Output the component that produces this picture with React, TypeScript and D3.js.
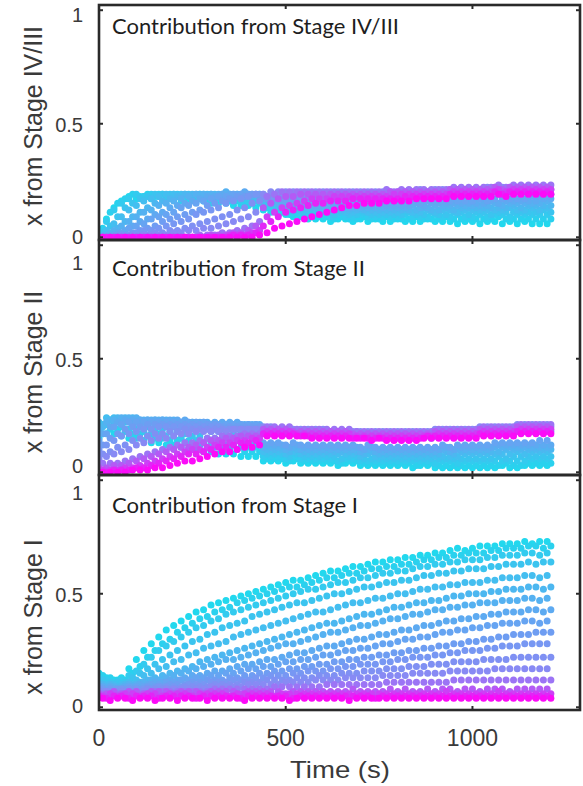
import React from "react";
import * as d3 from "d3";

// sampling times (s) - alternate runs were logged 10 s apart
const timesA = [0,20,40,60,80,100,120,140,160,180, 200,220,240,260,280,300,320,340,360,380, 400,420,440,460,480,500,520,540,560,580, 600,620,640,660,680,700,720,740,760,780, 800,820,840,860,880,900,920,940,960,980, 1000,1020,1040,1060,1080,1100,1120,1140,1160,1180, 1200];
const timesB = [10,30,50,70,90,110,130,150,170,190, 210,230,250,270,290,310,330,350,370,390, 410,430,450,470,490,510,530,550,570,590, 610,630,650,670,690,710,730,750,770,790, 810,830,850,870,890,910,930,950,970,990, 1010,1030,1050,1070,1090,1110,1130,1150,1170,1190, 1210];

// one row per run, cyan (first) -> magenta (last)
const stageIV_III = [
  [.02,.08,.13,.16,.18,.17,.18,.17,.18,.17, .17,.16,.17,.16,.16,.15,.15,.15,.14,.14, .14,.13,.12,.11,.10,.10,.09,.09,.08,.08, .08,.07,.08,.08,.07,.08,.07,.08,.07,.07, .08,.07,.07,.07,.08,.07,.07,.07,.06,.07, .07,.06,.07,.07,.06,.07,.06,.07,.06,.06, .06],
  [.04,.11,.15,.17,.19,.18,.19,.18,.19,.18, .18,.18,.17,.17,.17,.16,.17,.16,.16,.15, .15,.15,.13,.12,.11,.10,.10,.09,.09,.09, .09,.08,.09,.08,.08,.09,.08,.08,.09,.08, .08,.08,.09,.08,.08,.08,.09,.08,.08,.08, .08,.08,.08,.09,.08,.08,.08,.08,.08,.08, .08],
  [.03,.07,.12,.15,.17,.19,.18,.19,.19,.18, .19,.18,.18,.18,.17,.17,.17,.17,.17,.16, .16,.16,.14,.13,.12,.11,.11,.10,.10,.10, .10,.09,.10,.09,.09,.10,.09,.09,.09,.09, .09,.10,.09,.09,.09,.10,.09,.09,.10,.09, .09,.10,.09,.10,.10,.09,.10,.10,.10,.10, .10],
  [.02,.05,.09,.13,.15,.17,.18,.19,.19,.19, .19,.19,.18,.19,.18,.18,.18,.18,.18,.17, .17,.17,.15,.14,.13,.12,.12,.11,.11,.11, .11,.10,.11,.10,.10,.11,.10,.10,.10,.10, .10,.11,.10,.10,.11,.10,.10,.11,.11,.10, .11,.11,.10,.11,.11,.11,.11,.11,.11,.12, .11],
  [.01,.03,.06,.09,.12,.14,.16,.17,.18,.19, .19,.19,.19,.19,.19,.19,.18,.19,.18,.18, .18,.18,.16,.15,.14,.13,.13,.12,.12,.12, .12,.11,.12,.11,.11,.12,.11,.11,.11,.11, .11,.12,.11,.11,.12,.11,.12,.12,.11,.12, .12,.12,.12,.12,.12,.13,.12,.12,.13,.12, .13],
  [.01,.02,.04,.07,.09,.11,.13,.15,.16,.17, .18,.19,.19,.19,.19,.19,.19,.19,.19,.19, .18,.18,.17,.16,.15,.14,.13,.13,.13,.12, .12,.12,.12,.12,.12,.12,.12,.12,.12,.12, .12,.12,.12,.13,.12,.12,.13,.12,.13,.13, .13,.13,.13,.13,.13,.14,.13,.14,.14,.14, .14],
  [.00,.01,.03,.05,.07,.09,.11,.12,.14,.15, .16,.17,.18,.19,.19,.19,.19,.20,.19,.19, .19,.19,.17,.16,.15,.14,.14,.13,.13,.13, .13,.13,.13,.13,.13,.13,.13,.13,.13,.13, .13,.13,.14,.13,.13,.14,.14,.14,.14,.14, .14,.14,.14,.15,.14,.15,.15,.15,.15,.15, .16],
  [.00,.01,.02,.03,.05,.07,.08,.10,.11,.13, .14,.15,.16,.17,.18,.18,.19,.19,.19,.20, .19,.19,.18,.17,.16,.15,.15,.14,.14,.14, .14,.14,.14,.13,.14,.14,.14,.14,.14,.14, .14,.14,.15,.14,.15,.15,.15,.15,.15,.15, .15,.15,.16,.15,.16,.16,.16,.16,.16,.17, .17],
  [.00,.00,.01,.02,.04,.05,.06,.08,.09,.10, .11,.13,.14,.15,.16,.17,.18,.18,.19,.19, .19,.19,.19,.18,.17,.16,.16,.15,.15,.15, .15,.15,.14,.15,.15,.15,.15,.15,.15,.15, .15,.15,.16,.15,.16,.16,.16,.16,.16,.16, .16,.17,.16,.17,.17,.17,.17,.17,.18,.18, .18],
  [.00,.00,.01,.01,.02,.03,.04,.05,.07,.08, .09,.10,.11,.12,.14,.15,.16,.17,.18,.18, .19,.19,.17,.17,.17,.17,.17,.17,.17,.17, .17,.17,.17,.17,.17,.17,.17,.17,.17,.18, .17,.18,.18,.18,.18,.18,.18,.18,.18,.18, .19,.18,.19,.19,.19,.19,.19,.19,.19,.19, .19],
  [.00,.00,.00,.01,.01,.02,.03,.03,.04,.05, .06,.07,.08,.10,.11,.12,.13,.15,.16,.17, .18,.19,.18,.18,.18,.18,.18,.18,.18,.18, .18,.18,.18,.18,.18,.18,.18,.18,.18,.18, .18,.18,.19,.19,.19,.19,.19,.19,.19,.19, .19,.20,.19,.20,.20,.20,.20,.20,.20,.20, .20],
  [.00,.00,.00,.00,.01,.01,.01,.02,.02,.03, .03,.04,.05,.06,.07,.08,.09,.10,.12,.13, .15,.16,.18,.19,.19,.19,.19,.19,.19,.19, .19,.19,.19,.19,.19,.19,.19,.19,.19,.19, .19,.19,.19,.20,.19,.20,.20,.20,.20,.20, .20,.20,.20,.21,.20,.21,.21,.21,.21,.21, .21],
  [.00,.00,.00,.00,.00,.00,.01,.01,.01,.01, .02,.02,.03,.03,.04,.04,.05,.06,.07,.08, .09,.11,.19,.20,.20,.20,.20,.20,.20,.20, .20,.20,.20,.20,.20,.20,.20,.20,.20,.20, .20,.20,.20,.21,.20,.21,.21,.21,.21,.21, .21,.21,.22,.22,.22,.22,.22,.22,.22,.22, .22],
  [.00,.00,.00,.00,.00,.00,.00,.00,.00,.00, .00,.00,.00,.01,.01,.01,.02,.02,.03,.04, .05,.07,.18,.19,.20,.20,.20,.20,.20,.20, .20,.20,.20,.20,.20,.20,.20,.20,.21,.20, .21,.21,.21,.21,.21,.21,.21,.22,.22,.22, .22,.22,.22,.23,.22,.23,.23,.23,.23,.23, .23],
  [.00,.00,.00,.00,.00,.00,.00,.00,.00,.00, .00,.00,.00,.00,.00,.01,.01,.01,.02,.02, .03,.05,.13,.15,.17,.18,.18,.19,.19,.19, .19,.19,.19,.19,.19,.19,.19,.19,.19,.20, .20,.20,.20,.20,.20,.20,.20,.21,.21,.21, .21,.21,.21,.22,.21,.22,.22,.22,.22,.22, .22],
  [.00,.00,.00,.00,.00,.00,.00,.00,.00,.00, .00,.00,.00,.00,.00,.00,.00,.01,.01,.01, .02,.03,.09,.11,.13,.14,.15,.16,.17,.17, .17,.18,.18,.18,.18,.18,.18,.18,.18,.19, .19,.19,.19,.19,.19,.19,.19,.20,.20,.20, .20,.20,.20,.21,.20,.21,.21,.21,.21,.21, .21],
  [.00,.00,.00,.00,.00,.00,.00,.00,.00,.00, .00,.00,.00,.00,.00,.00,.00,.00,.01,.01, .01,.02,.05,.07,.09,.11,.12,.13,.14,.15, .15,.16,.16,.16,.17,.17,.17,.17,.17,.17, .17,.18,.18,.18,.18,.18,.18,.19,.19,.19, .19,.19,.19,.20,.19,.20,.20,.20,.20,.20, .20],
  [.00,.00,.00,.00,.00,.00,.00,.00,.00,.00, .00,.00,.00,.00,.00,.00,.00,.00,.00,.00, .00,.01,.02,.04,.05,.06,.07,.08,.09,.10, .11,.12,.13,.14,.14,.15,.15,.15,.16,.16, .16,.16,.17,.17,.17,.17,.17,.18,.18,.18, .18,.18,.18,.19,.18,.19,.19,.19,.19,.19, .19],
];

const stageII = [
  [.15,.17,.17,.16,.15,.15,.14,.13,.13,.12, .12,.11,.10,.10,.09,.09,.08,.08,.08,.07, .07,.07,.05,.05,.05,.04,.05,.04,.04,.04, .04,.04,.03,.04,.04,.03,.03,.03,.03,.03, .03,.03,.02,.03,.03,.02,.02,.02,.02,.02, .02,.02,.02,.02,.03,.02,.02,.03,.03,.03, .03],
  [.17,.19,.19,.18,.17,.17,.16,.15,.15,.14, .14,.13,.12,.12,.11,.11,.10,.10,.10,.09, .09,.09,.06,.06,.06,.05,.06,.05,.05,.05, .05,.05,.04,.05,.05,.04,.04,.04,.04,.04, .04,.04,.03,.04,.04,.03,.03,.03,.03,.03, .03,.03,.03,.03,.04,.03,.03,.04,.04,.04, .04],
  [.19,.21,.21,.20,.19,.19,.18,.17,.17,.16, .16,.15,.14,.14,.13,.13,.12,.12,.12,.11, .11,.11,.07,.07,.07,.06,.07,.06,.06,.06, .06,.06,.05,.06,.06,.05,.05,.05,.05,.05, .05,.05,.05,.05,.05,.04,.05,.05,.04,.05, .05,.05,.05,.05,.05,.05,.05,.05,.06,.06, .06],
  [.21,.23,.23,.22,.21,.21,.20,.19,.19,.18, .18,.17,.16,.16,.15,.15,.14,.14,.14,.13, .13,.13,.08,.08,.08,.07,.08,.07,.07,.07, .07,.07,.06,.07,.07,.06,.06,.06,.06,.06, .06,.06,.06,.06,.06,.06,.06,.06,.06,.06, .06,.06,.06,.07,.06,.07,.07,.07,.07,.07, .07],
  [.22,.24,.24,.23,.23,.22,.22,.22,.21,.21, .20,.20,.19,.19,.19,.18,.18,.18,.17,.17, .17,.17,.09,.09,.09,.08,.09,.08,.08,.08, .08,.08,.08,.08,.08,.07,.08,.07,.07,.07, .07,.07,.07,.07,.07,.07,.07,.07,.07,.08, .08,.08,.08,.08,.08,.08,.09,.08,.09,.09, .09],
  [.20,.23,.24,.24,.24,.23,.23,.23,.23,.22, .22,.22,.22,.21,.21,.21,.21,.20,.20,.20, .20,.20,.10,.10,.10,.09,.10,.09,.09,.09, .09,.09,.09,.09,.09,.08,.09,.08,.08,.08, .08,.08,.08,.08,.08,.08,.09,.08,.09,.09, .09,.09,.09,.09,.10,.10,.10,.10,.10,.10, .10],
  [.19,.22,.23,.24,.24,.24,.23,.23,.23,.23, .23,.22,.22,.22,.22,.21,.21,.21,.21,.21, .21,.21,.11,.11,.11,.10,.11,.10,.10,.10, .10,.10,.10,.10,.10,.09,.10,.09,.09,.09, .09,.09,.09,.09,.09,.09,.10,.09,.10,.10, .10,.10,.10,.11,.11,.11,.11,.11,.11,.11, .11],
  [.17,.20,.22,.23,.23,.23,.23,.23,.23,.23, .23,.23,.22,.22,.22,.22,.22,.22,.22,.21, .21,.21,.12,.12,.12,.11,.12,.11,.11,.11, .11,.11,.11,.11,.11,.10,.11,.10,.10,.10, .10,.10,.10,.10,.10,.10,.11,.10,.11,.11, .11,.11,.11,.12,.12,.12,.12,.12,.12,.12, .12],
  [.14,.17,.20,.21,.22,.22,.22,.22,.22,.22, .22,.22,.22,.22,.22,.21,.21,.21,.21,.21, .21,.21,.13,.13,.13,.12,.13,.12,.12,.12, .12,.12,.12,.12,.12,.11,.12,.11,.11,.11, .11,.11,.11,.11,.11,.11,.12,.11,.12,.12, .12,.12,.12,.13,.13,.13,.13,.13,.13,.14, .14],
  [.12,.15,.17,.19,.20,.20,.21,.21,.21,.21, .21,.21,.21,.21,.21,.21,.20,.20,.20,.20, .20,.20,.17,.17,.17,.17,.17,.17,.16,.17, .16,.16,.16,.16,.16,.16,.16,.16,.15,.16, .15,.15,.15,.16,.15,.16,.16,.16,.16,.16, .16,.17,.17,.17,.17,.17,.18,.18,.18,.18, .18],
  [.10,.12,.14,.16,.17,.18,.19,.19,.20,.20, .20,.20,.20,.20,.20,.20,.20,.19,.19,.19, .19,.19,.18,.18,.18,.18,.18,.18,.17,.17, .17,.17,.17,.17,.17,.17,.16,.17,.16,.16, .16,.16,.16,.16,.17,.16,.17,.17,.17,.17, .17,.18,.18,.18,.18,.18,.19,.19,.19,.19, .19],
  [.08,.09,.11,.12,.14,.15,.16,.17,.17,.18, .18,.19,.19,.19,.19,.19,.19,.19,.19,.19, .19,.19,.19,.19,.19,.19,.18,.18,.18,.18, .18,.18,.18,.17,.18,.17,.17,.17,.17,.17, .17,.17,.17,.17,.17,.18,.18,.18,.18,.18, .18,.19,.19,.19,.19,.19,.20,.20,.20,.20, .20],
  [.06,.07,.08,.09,.10,.12,.13,.14,.15,.15, .16,.17,.17,.18,.18,.18,.18,.18,.19,.19, .19,.19,.20,.20,.19,.19,.19,.19,.19,.19, .19,.18,.18,.18,.18,.18,.18,.18,.18,.18, .18,.18,.18,.18,.18,.19,.19,.19,.19,.19, .19,.20,.20,.20,.20,.20,.21,.21,.21,.21, .21],
  [.04,.04,.04,.05,.06,.07,.08,.09,.10,.11, .12,.13,.13,.14,.15,.15,.16,.16,.16,.17, .17,.17,.20,.20,.20,.20,.19,.19,.19,.19, .19,.19,.19,.19,.18,.18,.18,.18,.18,.18, .18,.18,.18,.18,.18,.19,.19,.19,.19,.19, .19,.20,.20,.20,.20,.20,.21,.21,.21,.21, .21],
  [.02,.02,.03,.03,.04,.05,.06,.07,.08,.09, .10,.11,.11,.12,.13,.14,.14,.15,.15,.16, .16,.16,.19,.19,.19,.19,.18,.18,.18,.18, .18,.18,.18,.18,.17,.17,.17,.17,.17,.17, .17,.17,.17,.17,.17,.18,.18,.18,.18,.18, .18,.19,.19,.19,.19,.19,.20,.20,.20,.20, .20],
  [.01,.01,.01,.02,.02,.03,.04,.05,.06,.07, .08,.09,.10,.10,.11,.12,.13,.13,.14,.14, .15,.15,.18,.18,.18,.18,.17,.17,.17,.17, .17,.17,.17,.17,.16,.16,.16,.16,.16,.16, .16,.16,.16,.16,.16,.17,.17,.17,.17,.17, .17,.18,.18,.18,.18,.18,.19,.19,.19,.19, .19],
  [.00,.00,.01,.01,.01,.02,.02,.03,.04,.05, .06,.07,.08,.08,.09,.10,.11,.11,.12,.13, .13,.14,.17,.17,.17,.17,.17,.16,.16,.16, .16,.16,.16,.16,.15,.15,.15,.15,.15,.15, .15,.15,.15,.15,.16,.16,.16,.16,.16,.16, .16,.17,.17,.17,.17,.17,.18,.18,.18,.18, .18],
  [.00,.00,.00,.00,.01,.01,.01,.02,.02,.03, .04,.05,.05,.06,.07,.08,.09,.09,.10,.11, .11,.12,.16,.16,.16,.16,.16,.16,.15,.15, .15,.15,.15,.15,.15,.15,.14,.15,.14,.14, .14,.14,.14,.15,.15,.15,.15,.15,.15,.15, .15,.16,.16,.16,.16,.16,.17,.17,.17,.17, .17],
];

const stageI = [
  [.15,.13,.12,.13,.17,.21,.25,.28,.31,.34, .36,.38,.40,.42,.43,.45,.46,.47,.48,.49, .50,.51,.52,.53,.54,.55,.56,.56,.57,.58, .59,.60,.60,.61,.62,.62,.63,.64,.64,.65, .65,.66,.66,.67,.67,.68,.68,.69,.70,.69, .70,.71,.71,.71,.72,.72,.72,.73,.72,.73, .73],
  [.14,.13,.12,.12,.15,.18,.22,.25,.28,.30, .33,.35,.37,.39,.40,.42,.43,.44,.46,.47, .48,.49,.50,.51,.52,.53,.53,.54,.55,.56, .57,.57,.58,.59,.59,.60,.61,.61,.62,.62, .63,.63,.64,.65,.65,.66,.66,.67,.67,.68, .68,.68,.69,.69,.70,.70,.70,.71,.71,.70, .71],
  [.13,.12,.11,.12,.14,.16,.19,.22,.25,.27, .29,.31,.33,.35,.36,.38,.39,.41,.42,.43, .44,.45,.46,.47,.48,.49,.50,.51,.52,.52, .53,.54,.55,.55,.56,.57,.57,.58,.59,.59, .60,.60,.61,.62,.62,.63,.63,.64,.64,.65, .65,.65,.66,.66,.67,.67,.67,.68,.68,.67, .68],
  [.12,.11,.11,.11,.13,.15,.17,.19,.21,.23, .25,.27,.29,.30,.32,.33,.35,.36,.37,.38, .40,.41,.42,.43,.44,.45,.46,.46,.47,.48, .49,.50,.50,.51,.52,.53,.53,.54,.55,.55, .56,.56,.57,.58,.58,.59,.59,.60,.60,.61, .61,.61,.62,.62,.63,.63,.63,.64,.63,.64, .64],
  [.11,.10,.10,.10,.11,.12,.14,.15,.17,.18, .20,.21,.23,.24,.26,.27,.28,.29,.31,.32, .33,.34,.35,.36,.37,.38,.39,.40,.41,.42, .42,.43,.44,.45,.46,.46,.47,.48,.48,.49, .50,.50,.51,.52,.52,.53,.53,.54,.54,.55, .55,.55,.56,.56,.57,.57,.57,.58,.58,.57, .58],
  [.10,.10,.09,.10,.10,.11,.12,.13,.14,.15, .16,.17,.18,.20,.21,.22,.23,.24,.25,.26, .27,.28,.29,.30,.31,.32,.33,.34,.35,.36, .37,.37,.38,.39,.40,.41,.41,.42,.43,.44, .44,.45,.46,.46,.47,.47,.48,.49,.49,.50, .50,.50,.51,.51,.52,.52,.52,.53,.53,.52, .53],
  [.10,.09,.09,.09,.10,.10,.11,.12,.12,.13, .14,.15,.16,.17,.18,.19,.20,.21,.21,.22, .23,.24,.25,.26,.27,.28,.28,.29,.30,.31, .32,.33,.33,.34,.35,.36,.36,.37,.38,.39, .39,.40,.41,.41,.42,.43,.43,.44,.44,.45, .45,.46,.46,.46,.47,.47,.47,.48,.48,.47, .48],
  [.09,.09,.08,.09,.09,.10,.10,.11,.11,.12, .12,.13,.14,.14,.15,.16,.16,.17,.18,.19, .19,.20,.21,.21,.22,.23,.24,.24,.25,.26, .27,.27,.28,.29,.30,.30,.31,.32,.32,.33, .34,.34,.35,.36,.36,.37,.38,.38,.39,.39, .40,.40,.41,.41,.42,.42,.42,.43,.43,.42, .43],
  [.09,.08,.08,.08,.09,.09,.09,.10,.10,.11, .11,.12,.12,.13,.13,.14,.14,.15,.15,.16, .17,.17,.18,.18,.19,.20,.20,.21,.21,.22, .23,.23,.24,.25,.25,.26,.26,.27,.28,.28, .29,.30,.30,.31,.31,.32,.33,.33,.34,.34, .35,.35,.36,.36,.37,.37,.37,.38,.38,.37, .38],
  [.08,.08,.08,.08,.08,.08,.09,.09,.09,.10, .10,.10,.11,.11,.12,.12,.12,.13,.13,.14, .14,.15,.15,.16,.16,.17,.17,.18,.18,.19, .19,.20,.20,.21,.21,.22,.22,.23,.23,.24, .24,.25,.25,.26,.26,.27,.27,.28,.28,.29, .29,.30,.30,.31,.31,.32,.32,.32,.33,.33, .33],
  [.08,.07,.07,.08,.08,.08,.08,.08,.09,.09, .09,.09,.10,.10,.10,.11,.11,.11,.12,.12, .12,.13,.13,.14,.14,.14,.15,.15,.16,.16, .16,.17,.17,.18,.18,.19,.19,.19,.20,.20, .21,.21,.22,.22,.22,.23,.23,.24,.24,.25, .25,.25,.26,.26,.27,.27,.27,.28,.28,.28, .28],
  [.07,.07,.07,.07,.07,.07,.08,.08,.08,.08, .08,.09,.09,.09,.09,.10,.10,.10,.10,.11, .11,.11,.12,.12,.12,.12,.13,.13,.13,.14, .14,.14,.15,.15,.15,.16,.16,.16,.17,.17, .17,.18,.18,.18,.19,.19,.19,.20,.20,.20, .20,.21,.21,.21,.21,.22,.22,.22,.22,.22, .22],
  [.07,.07,.06,.07,.07,.07,.07,.07,.07,.08, .08,.08,.08,.08,.08,.09,.09,.09,.09,.09, .10,.10,.10,.10,.10,.11,.11,.11,.11,.12, .12,.12,.12,.13,.13,.13,.13,.13,.14,.14, .14,.14,.15,.15,.15,.15,.15,.16,.16,.16, .16,.16,.16,.17,.17,.17,.17,.17,.17,.17, .17],
  [.06,.06,.06,.06,.06,.06,.06,.07,.07,.07, .07,.07,.07,.07,.07,.08,.08,.08,.08,.08, .08,.08,.08,.09,.09,.09,.09,.09,.09,.09, .10,.10,.10,.10,.10,.10,.10,.10,.11,.11, .11,.11,.11,.11,.11,.11,.11,.12,.12,.12, .12,.12,.12,.12,.12,.12,.12,.12,.12,.12, .12],
  [.06,.06,.07,.06,.07,.07,.06,.07,.07,.07, .06,.07,.07,.07,.06,.07,.07,.07,.07,.06, .07,.07,.07,.07,.07,.06,.07,.07,.07,.07, .07,.07,.07,.07,.08,.07,.07,.07,.07,.08, .07,.08,.07,.07,.08,.07,.08,.08,.07,.08, .08,.07,.08,.08,.08,.07,.08,.08,.08,.08, .08],
  [.05,.06,.05,.06,.06,.05,.06,.06,.05,.06, .06,.06,.05,.06,.06,.06,.06,.05,.06,.06, .06,.06,.06,.05,.06,.06,.06,.06,.06,.06, .06,.06,.06,.06,.06,.06,.06,.06,.06,.06, .06,.06,.06,.06,.06,.06,.07,.06,.06,.06, .06,.06,.06,.07,.06,.06,.06,.06,.06,.06, .06],
  [.05,.04,.05,.05,.04,.05,.05,.05,.04,.05, .05,.05,.05,.04,.05,.05,.05,.05,.05,.04, .05,.05,.05,.05,.05,.05,.04,.05,.05,.05, .05,.05,.05,.05,.05,.05,.05,.04,.05,.05, .05,.05,.05,.05,.05,.05,.05,.05,.05,.05, .05,.05,.05,.05,.05,.05,.05,.05,.05,.05, .05],
  [.04,.03,.04,.04,.03,.04,.04,.03,.04,.04, .03,.04,.04,.04,.03,.04,.04,.04,.04,.03, .04,.04,.04,.04,.04,.03,.04,.04,.04,.04, .04,.04,.04,.03,.04,.04,.04,.04,.04,.04, .04,.04,.04,.04,.04,.04,.04,.04,.04,.04, .04,.04,.04,.04,.04,.04,.04,.04,.04,.04, .04],
];

const panelData = [stageIV_III, stageII, stageI];
const runTimes = [timesA, timesB];
const panelTitles = ["Contribution from Stage IV/III", "Contribution from Stage II", "Contribution from Stage I"];
const yLabels = ["x from Stage IV/III", "x from Stage II", "x from Stage I"];
const yTicks = [0, 0.5, 1];
const xTicks = [0, 500, 1000];

const W = 583;
const H = 786;
const left = 99;
const right = 580;
const panelTops = [5, 240, 475];
const panelH = 235;
const titleBase = [34, 276, 513];
const titleLen = [287, 253, 246];
const yLabelMid = [126, 372, 617];
const oneDy = [5, 18, 13];
const zeroDy = [0, -6, -1];
const ink = "#2a2a2a";
const textCol = "#3a3a3a";

const x = d3.scaleLinear().domain([0, 1288]).range([left, right]);
const color = d3.scaleLinear<string>()
  .domain([0, 0.72, 1])
  .range(["#22d8ee", "#8a88f4", "#fb0bf8"])
  .interpolate(d3.interpolateRgb);

function Panel({ idx }: { idx: number }) {
  const top = panelTops[idx];
  const bottom = top + panelH;
  const y = d3.scaleLinear().domain([-0.012, 1.023]).range([bottom, top]);
  const series = panelData[idx];
  const n = series.length;
  const clipId = `clip-${idx}`;
  return (
    <g>
      <clipPath id={clipId}>
        <rect x={left} y={top} width={right - left} height={panelH} />
      </clipPath>
      <g clipPath={`url(#${clipId})`}>
        {series.map((vals, i) => {
          const ts = runTimes[i % runTimes.length];
          return (
            <g key={i} fill={color(i / (n - 1))}>
              {vals.map((v, j) => (
                <circle key={j} cx={x(ts[j])} cy={y(v)} r={3.5} />
              ))}
            </g>
          );
        })}
      </g>
      <rect x={left} y={top} width={right - left} height={panelH} fill="none" stroke={ink} strokeWidth={2.6} />
      {yTicks.map((t) => (
        <g key={t}>
          <line x1={left} x2={left + 4} y1={y(t)} y2={y(t)} stroke={ink} strokeWidth={2} />
          <line x1={right - 4} x2={right} y1={y(t)} y2={y(t)} stroke={ink} strokeWidth={2} />
          <text
            x={83}
            y={y(t) + (t === 1 ? oneDy[idx] : t === 0 ? zeroDy[idx] : 1)}
            textAnchor="end"
            dominantBaseline="central"
            fontFamily="Liberation Sans, Arial, sans-serif"
            fontSize={20}
            fill={textCol}
          >
            {t}
          </text>
        </g>
      ))}
      {xTicks.slice(1).map((t) => (
        <g key={t}>
          <line x1={x(t)} x2={x(t)} y1={top} y2={top + 4} stroke={ink} strokeWidth={2} />
          <line x1={x(t)} x2={x(t)} y1={bottom - 4} y2={bottom} stroke={ink} strokeWidth={2} />
        </g>
      ))}
      <text
        x={112}
        y={titleBase[idx]}
        fontFamily="Lato, 'Open Sans', sans-serif"
        fontSize={21}
        fill="#1e1e1e"
        textLength={titleLen[idx]}
        lengthAdjust="spacingAndGlyphs"
      >
        {panelTitles[idx]}
      </text>
      <text
        transform={`translate(33,${yLabelMid[idx]}) rotate(-90)`}
        textAnchor="middle"
        dominantBaseline="central"
        fontFamily="Liberation Sans, Arial, sans-serif"
        fontSize={25}
        fill={textCol}
      >
        {yLabels[idx]}
      </text>
    </g>
  );
}

export default function App() {
  const axisY = panelTops[2] + panelH;
  return (
    <svg
      width={W}
      height={H}
      viewBox={`0 0 ${W} ${H}`}
      style={{ position: "absolute", left: 0, top: 0, background: "#fff" }}
    >
      <rect width={W} height={H} fill="#fff" />
      {panelData.map((_, i) => (
        <Panel key={i} idx={i} />
      ))}
      {xTicks.map((t) => (
        <text
          key={t}
          x={x(t)}
          y={axisY + 36}
          textAnchor="middle"
          fontFamily="Liberation Sans, Arial, sans-serif"
          fontSize={23}
          fill={textCol}
        >
          {t}
        </text>
      ))}
      <text
        x={340}
        y={axisY + 68}
        textAnchor="middle"
        fontFamily="Liberation Sans, Arial, sans-serif"
        fontSize={24}
        fill={textCol}
        textLength={100}
        lengthAdjust="spacingAndGlyphs"
      >
        Time (s)
      </text>
    </svg>
  );
}
